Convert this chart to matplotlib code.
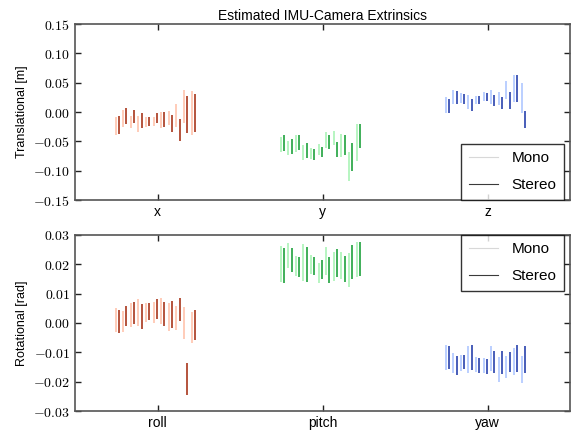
import numpy as np
import matplotlib
matplotlib.use("Agg")
import matplotlib.pyplot as plt
from matplotlib.ticker import FuncFormatter

plt.rcParams['font.family'] = ['Liberation Sans', 'DejaVu Sans']
plt.rcParams['mathtext.fontset'] = 'cm'

# DATA: (top, bottom) of each run's range, mono and stereo interleaved
trans_labels = ["x", "y", "z"]
rot_labels = ["roll", "pitch", "yaw"]

x_mono = [(-0.008, -0.040), (0.0034, -0.025), (-0.007, -0.028), (-0.006, -0.034),
          (-0.008, -0.025), (-0.008, -0.024), (0.000, -0.028), (0.002, -0.0215),
          (0.0136, -0.025), (0.0375, -0.019), (0.036, -0.040)]
x_stereo = [(-0.007, -0.0375), (0.006, -0.020), (0.003, -0.018), (-0.002, -0.028),
            (-0.0085, -0.024), (-0.001, -0.018), (0.000, -0.025), (-0.005, -0.0345),
            (-0.012, -0.049), (0.027, -0.036), (0.030, -0.034)]
y_mono = [(-0.042, -0.069), (-0.049, -0.074), (-0.039, -0.068), (-0.0557, -0.082),
          (-0.061, -0.080), (-0.054, -0.074), (-0.0335, -0.061), (-0.033, -0.057),
          (-0.038, -0.077), (-0.069, -0.118), (-0.020, -0.083)]
y_stereo = [(-0.040, -0.067), (-0.046, -0.0716), (-0.0386, -0.065), (-0.053, -0.078),
            (-0.0636, -0.081), (-0.059, -0.077), (-0.0386, -0.0625), (-0.051, -0.076),
            (-0.040, -0.074), (-0.052, -0.100), (-0.020, -0.062)]
z_mono = [(0.025, -0.001), (0.0375, 0.0136), (0.032, 0.015), (0.0295, 0.0057),
          (0.027, 0.0136), (0.0335, 0.019), (0.037, 0.014), (0.0347, 0.012),
          (0.053, 0.023), (0.0636, 0.0176), (0.049, -0.0017)]
z_stereo = [(0.023, -0.001), (0.035, 0.013), (0.030, 0.013), (0.023, 0.002),
            (0.0267, 0.013), (0.033, 0.019), (0.0285, 0.010), (0.0256, 0.0057),
            (0.034, 0.0057), (0.0625, 0.017), (0.001, -0.028)]

roll_mono = [(0.0049, -0.0032), (0.004, -0.003), (0.0066, -0.0013), (0.008, -0.001),
             (0.0068, 0.0004), (0.007, -0.0002), (0.0084, -0.0004), (0.0066, -0.0029),
             (0.0057, -0.0025), (0.0054, -0.0054), (0.0037, -0.007)]
roll_stereo = [(0.0044, -0.0034), (0.0057, -0.0009), (0.007, -0.0003), (0.0064, -0.002),
               (0.0067, 0.001), (0.008, 0.0014), (0.0071, -0.0011), (0.0074, -0.0018),
               (0.0085, 0.0007), (-0.0136, -0.0246), (0.0044, -0.0059)]
pitch_mono = [(0.0261, 0.0138), (0.0272, 0.0188), (0.0227, 0.016), (0.0267, 0.0142),
              (0.023, 0.0167), (0.0205, 0.0137), (0.0258, 0.0164), (0.0241, 0.0142),
              (0.0241, 0.0149), (0.0239, 0.0122), (0.0277, 0.0157)]
pitch_stereo = [(0.0255, 0.0137), (0.0256, 0.0172), (0.0223, 0.0157), (0.0257, 0.0138),
                (0.0223, 0.0164), (0.0214, 0.015), (0.0223, 0.0137), (0.0251, 0.0155),
                (0.0227, 0.014), (0.0265, 0.015), (0.0275, 0.0158)]
yaw_mono = [(-0.0076, -0.016), (-0.0104, -0.0172), (-0.011, -0.0164), (-0.0079, -0.017),
            (-0.0115, -0.0167), (-0.0121, -0.0172), (-0.0079, -0.0163), (-0.0117, -0.020),
            (-0.0113, -0.0187), (-0.0087, -0.0177), (-0.0113, -0.0204)]
yaw_stereo = [(-0.0079, -0.0158), (-0.0113, -0.0178), (-0.011, -0.0158), (-0.0076, -0.016),
              (-0.012, -0.0169), (-0.0123, -0.0174), (-0.0095, -0.017), (-0.0097, -0.0175),
              (-0.0099, -0.0167), (-0.0076, -0.0166), (-0.0079, -0.017)]

mono_colors = ['#ffbfa6', '#a3f2b0', '#a8c2ff']
stereo_colors = ['#a12408', '#0c9a2c', '#1632a6']

top_data = [(x_mono, x_stereo), (y_mono, y_stereo), (z_mono, z_stereo)]
bot_data = [(roll_mono, roll_stereo), (pitch_mono, pitch_stereo), (yaw_mono, yaw_stereo)]

fig = plt.figure(figsize=(5.73, 4.32), dpi=100)
ax1 = fig.add_axes([0.1309, 0.537, 0.864, 0.4074])
ax2 = fig.add_axes([0.1309, 0.0486, 0.864, 0.408])


def draw(ax, data, labels, ylim, yticks, ylabel):
    for g, (mono, stereo) in enumerate(data):
        xs = g + 0.5 - 0.254 + 0.046 * np.arange(len(mono))
        mono = np.array(mono)
        stereo = np.array(stereo)
        ax.vlines(xs, mono[:, 1], mono[:, 0], color=mono_colors[g], lw=1.1)
        ax.vlines(xs + 0.02, stereo[:, 1], stereo[:, 0], color=stereo_colors[g], lw=1.1)
    ax.set_xlim(0, 3)
    ax.set_ylim(*ylim)
    ax.set_xticks([0.5, 1.5, 2.5])
    ax.set_xticklabels(labels, fontsize=9)
    ax.set_yticks(yticks)
    ax.yaxis.set_major_formatter(FuncFormatter(lambda v, p: '$%.2f$' % v))
    ax.tick_params(direction='in', top=True, right=True, length=4, width=1,
                   color='#222222', labelsize=10)
    ax.set_ylabel(ylabel, fontsize=9)
    for s in ax.spines.values():
        s.set_color('#555555')
        s.set_linewidth(1.2)


draw(ax1, top_data, trans_labels, (-0.15, 0.15), np.arange(-0.15, 0.151, 0.05),
     "Translational [m]")
draw(ax2, bot_data, rot_labels, (-0.03, 0.03), np.arange(-0.03, 0.0301, 0.01),
     "Rotational [rad]")

ax1.set_title("Estimated IMU-Camera Extrinsics", fontsize=10, pad=3)

h1, = ax1.plot([], [], color='#d8d8d8', lw=0.8, label='Mono')
h2, = ax1.plot([], [], color='#3a3a3a', lw=0.8, label='Stereo')
for ax, loc, anchor in [(ax1, 'lower right', (0.988, 0.0)), (ax2, 'upper right', (0.988, 1.0))]:
    leg = ax.legend([h1, h2], ['Mono', 'Stereo'], loc=loc, bbox_to_anchor=anchor,
                    borderaxespad=0, fancybox=False, fontsize=11, handlelength=1.9,
                    labelspacing=0.85, borderpad=0.5, handletextpad=0.9)
    leg.get_frame().set_edgecolor('black')
    leg.get_frame().set_linewidth(1.0)

plt.savefig("out.png", dpi=100)
